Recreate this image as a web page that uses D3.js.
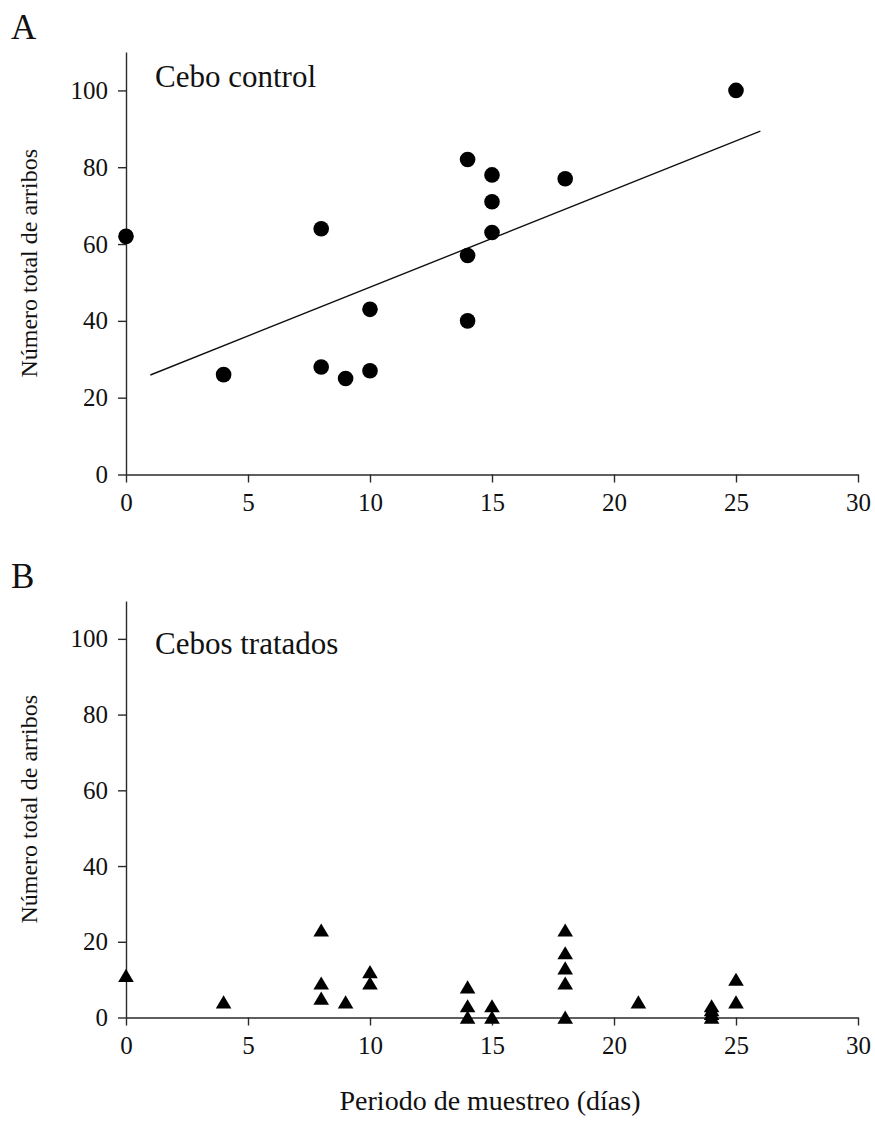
<!DOCTYPE html>
<html>
<head>
<meta charset="utf-8">
<script src="https://cdn.jsdelivr.net/npm/d3@7"></script>
<style>
  body { margin: 0; background: #fff; }
</style>
</head>
<body>
<div id="chart"></div>
<script>
// panel A - control bait
var controlDays = [0, 4, 8, 8, 9, 10, 10, 14, 14, 14, 15, 15, 15, 18, 25];
var controlArrivals = [62, 26, 64, 28, 25, 27, 43, 82, 57, 40, 78, 71, 63, 77, 100];
// fitted line as drawn (start / end in data units)
var fitDays = [1, 26];
var fitArrivals = [25.9, 89.4];

// panel B - treated baits
var treatedDays = [0, 4, 8, 8, 8, 9, 10, 10, 14, 14, 14, 15, 15, 18, 18, 18, 18, 18, 21, 24, 24, 24, 24, 25, 25];
var treatedArrivals = [11, 4, 23, 9, 5, 4, 12, 9, 8, 3, 0, 3, 0, 23, 17, 13, 9, 0, 4, 3, 2, 1, 0, 10, 4];

var xTicks = [0, 5, 10, 15, 20, 25, 30];
var yTicks = [0, 20, 40, 60, 80, 100];

var serif = "'Liberation Serif', 'Times New Roman', Times, serif";

var svg = d3.select("#chart").append("svg")
    .attr("width", 875)
    .attr("height", 1124)
    .style("font-family", serif);

function addText(parent, size, txt) {
    return parent.append("text")
        .style("font-family", serif)
        .style("font-size", size + "px")
        .attr("fill", "#111")
        .text(txt);
}

function drawPanel(opt) {
    var x = d3.scaleLinear().domain([0, 30]).range([126, 858]);
    var y = d3.scaleLinear().domain([0, 110]).range([opt.bottom, opt.top]);

    var g = svg.append("g");

    // axes
    var xAxis = g.append("g")
        .attr("transform", "translate(0," + opt.bottom + ")")
        .call(d3.axisBottom(x).tickValues(xTicks).tickSize(8).tickSizeOuter(0).tickPadding(11));
    var yAxis = g.append("g")
        .attr("transform", "translate(126,0)")
        .call(d3.axisLeft(y).tickValues(yTicks).tickSize(8).tickSizeOuter(0).tickPadding(10));

    [xAxis, yAxis].forEach(function(a) {
        a.attr("font-family", null).attr("font-size", null);
        a.selectAll("path, line").attr("stroke", "#2a2a2a").attr("stroke-width", 1.4);
        a.selectAll("text")
            .style("font-family", serif)
            .style("font-size", "25px")
            .attr("fill", "#111");
    });

    // panel letter
    addText(svg, 35, opt.letter)
        .attr("x", 11).attr("y", opt.letterY);

    // inset label
    addText(g, 31, opt.title)
        .attr("x", 155).attr("y", y(opt.labelAt));

    // y label
    addText(g, 24, "Número total de arribos")
        .attr("transform", "translate(37," + ((y(0) + y(110)) / 2) + ") rotate(-90)")
        .attr("text-anchor", "middle");

    if (opt.fit) {
        g.append("line")
            .attr("x1", x(fitDays[0])).attr("y1", y(fitArrivals[0]))
            .attr("x2", x(fitDays[1])).attr("y2", y(fitArrivals[1]))
            .attr("stroke", "#111").attr("stroke-width", 1.4);
    }

    var pts = opt.xs.map(function(d, i) { return { x: d, y: opt.ys[i] }; });

    if (opt.shape === "circle") {
        g.selectAll("circle.pt").data(pts).enter().append("circle")
            .attr("class", "pt")
            .attr("cx", function(d) { return x(d.x); })
            .attr("cy", function(d) { return y(d.y); })
            .attr("r", 7.8)
            .attr("fill", "#000");
    } else {
        g.selectAll("path.pt").data(pts).enter().append("path")
            .attr("class", "pt")
            .attr("transform", function(d) { return "translate(" + x(d.x) + "," + y(d.y) + ")"; })
            .attr("d", "M0,-7 L7.8,6.2 L-7.8,6.2 Z")
            .attr("fill", "#000");
    }
}

drawPanel({ letter: "A", letterY: 39, top: 52, bottom: 474.5, title: "Cebo control", labelAt: 101,
    xs: controlDays, ys: controlArrivals, shape: "circle", fit: true });
drawPanel({ letter: "B", letterY: 588, top: 601, bottom: 1017.5, title: "Cebos tratados", labelAt: 96,
    xs: treatedDays, ys: treatedArrivals, shape: "triangle", fit: false });

// x label
addText(svg, 28, "Periodo de muestreo (días)")
    .attr("x", 490).attr("y", 1110)
    .attr("text-anchor", "middle");
</script>
</body>
</html>
